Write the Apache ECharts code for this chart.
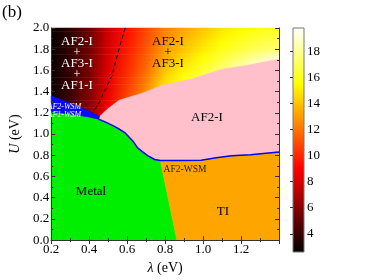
<!DOCTYPE html>
<html><head><meta charset="utf-8">
<script src="https://cdn.jsdelivr.net/npm/echarts@6/dist/echarts.min.js"></script>
<style>html,body{margin:0;padding:0;background:#fff}#c{width:374px;height:280px}</style>
</head><body><div id="c"></div>
<script>
// ---- heat map (gap) values ----
const lambdaGrid = [0.2,0.3,0.4,0.5,0.6,0.7,0.8,0.9,1.0,1.1,1.2,1.3,1.4];
const uGrid = [2.0,1.9,1.8,1.7,1.6,1.5,1.4,1.3,1.2,1.1];
const gapU20 = [2.8,3.8,5.3,7.8,9.4,10.8,12.3,13.2,14.0,14.8,15.3,15.7,16.0];
const gapU19 = [2.8,3.8,5.3,7.9,9.5,11.0,12.6,13.6,14.5,15.3,15.9,16.4,16.7];
const gapU18 = [2.8,3.9,5.4,8.0,9.7,11.2,13.0,14.0,15.0,15.8,16.5,17.0,17.4];
const gapU17 = [2.8,3.9,5.5,8.1,9.9,11.5,13.4,14.6,15.6,16.6,17.6,18.5,19.3];
const gapU16 = [2.9,4.0,5.6,8.2,10.1,11.8,14.0,15.2,16.3,17.5,18.6,19.4,19.8];
const gapU15 = [2.9,4.0,5.7,8.4,10.4,12.2,14.6,15.8,17.0,18.2,19.2,19.7,19.8];
const gapU14 = [2.9,4.1,5.8,8.5,10.6,12.6,15.0,16.4,17.6,18.8,19.6,19.8,19.8];
const gapU13 = [3.0,4.2,6.0,8.7,10.9,13.0,15.4,16.8,18.0,19.2,19.8,19.8,19.8];
const gapU12 = [3.0,4.3,6.2,8.9,11.2,13.4,15.8,17.2,18.4,19.5,19.8,19.8,19.8];
const gapU11 = [3.1,4.4,6.4,9.1,11.5,13.8,16.2,17.6,18.8,19.8,19.8,19.8,19.8];
const gapRows = [gapU20,gapU19,gapU18,gapU17,gapU16,gapU15,gapU14,gapU13,gapU12,gapU11];

// ---- phase boundaries (lambda, U) ----
const metalTop = [[0.2,1.21],[0.3,1.19],[0.4,1.16],[0.45,1.14],[0.49,1.11],[0.53,1.075],[0.56,1.045],[0.59,1.01],[0.63,0.935],[0.655,0.87],[0.68,0.835],[0.71,0.795],[0.745,0.76],[0.775,0.75]];
const tiTop = [[0.775,0.75],[0.89,0.75],[0.99,0.752],[1.07,0.776],[1.15,0.795],[1.25,0.805],[1.40,0.83]];
const wsmTop = [[0.2,1.36],[0.3,1.29],[0.4,1.215],[0.455,1.165]];
const pinkTop = [[0.455,1.165],[0.50,1.24],[0.56,1.32],[0.68,1.385],[0.78,1.457],[0.94,1.52],[1.10,1.61],[1.25,1.654],[1.40,1.707]];
const metalTiEdge = [[0.775,0.75],[0.862,0]];
const dashedLine = [[0.59,2.0],[0.57,1.88],[0.545,1.72],[0.52,1.55],[0.48,1.40],[0.445,1.27],[0.415,1.2]];

// ---- colour bar ----
const cbMin = 2.6, cbMax = 19.8;
const cbTicks = [4,6,8,10,12,14,16,18];
const xTicksMin = 0.2, xTicksMax = 1.4;

const hotStops = ['#000000','#550000','#aa0000','#ff0000','#ff5500','#ffaa00','#ffff00','#ffff80','#ffffff'];
function cmap(v){
  let t = (v-cbMin)/(cbMax-cbMin); t = Math.max(0,Math.min(1,t));
  return echarts.color.lerp(t, hotStops);
}

const metalPoly = [[0.2,0]].concat(metalTop).concat([metalTiEdge[1]]);
const tiPoly = [metalTiEdge[1]].concat(tiTop).concat([[1.4,0]]);
const pinkPoly = pinkTop.concat(tiTop.slice().reverse()).concat(metalTop.filter(p=>p[0]>=0.45).reverse());
const wsmPoly = wsmTop.concat(metalTop.filter(p=>p[0]<=0.45).reverse());
const blueLine = metalTop.filter(p=>p[0]>=0.45).concat(tiTop.slice(1));

function polySeries(points, color, z){
  return {type:'custom', coordinateSystem:'cartesian2d', xAxisIndex:0, yAxisIndex:0, silent:true, z:z,
    data:[points[0]],
    renderItem:(p,api)=>({type:'polygon', shape:{points: points.map(q=>api.coord(q))},
      style:{fill:color, stroke:color, lineWidth:0.6}})};
}

const SUB = 6;
const heatSeries = {
  type:'custom', coordinateSystem:'cartesian2d', xAxisIndex:0, yAxisIndex:0, silent:true, z:1,
  data: uGrid.slice(0,-1).map(u=>[0.2,u]),
  renderItem:(params, api)=>{
    const j = params.dataIndex;
    const u0 = uGrid[j], u1 = uGrid[j+1];
    const children = [];
    const xl = api.coord([lambdaGrid[0], u0])[0];
    const xr = api.coord([lambdaGrid[lambdaGrid.length-1], u0])[0];
    for (let k=0;k<SUB;k++){
      const f = (k+0.5)/SUB;
      const ya = api.coord([0.2, u0 + (u1-u0)*k/SUB])[1];
      const yb = api.coord([0.2, u0 + (u1-u0)*(k+1)/SUB])[1];
      const stops = lambdaGrid.map((l,i)=>({offset:(l-lambdaGrid[0])/(lambdaGrid[lambdaGrid.length-1]-lambdaGrid[0]),
        color: cmap(gapRows[j][i]*(1-f) + gapRows[j+1][i]*f)}));
      children.push({type:'rect', shape:{x:xl, y:ya-0.3, width:xr-xl, height:(yb-ya)+0.6},
        style:{fill:new echarts.graphic.LinearGradient(0,0,1,0,stops)}});
    }
    return {type:'group', children};
  }
};

const cbSeries = {
  type:'custom', coordinateSystem:'cartesian2d', xAxisIndex:2, yAxisIndex:2, silent:true, z:2,
  data:[[0,cbMin]],
  renderItem:(params, api)=>{
    const a = api.coord([0,cbMax]), b = api.coord([1,cbMin]);
    const stops = hotStops.map((c,i)=>({offset:1-i/(hotStops.length-1), color:c}));
    return {type:'rect', shape:{x:a[0], y:a[1], width:b[0]-a[0], height:b[1]-a[1]},
      style:{fill:new echarts.graphic.LinearGradient(0,0,0,1,stops), stroke:'#777', lineWidth:1}};
  }
};

const serif = '"Liberation Serif", "DejaVu Serif", serif';
const axisCol = '#333';
function fmt(v){ return (Math.round(v*10)/10).toFixed(1); }

const chart = echarts.init(document.getElementById('c'), null, {renderer:'canvas'});
chart.setOption({
  animation:false,
  backgroundColor:'#fff',
  grid:[
    {left:47, top:28, width:232, height:224},
    {left:293, top:28, width:11, height:224}
  ],
  xAxis:[
    {type:'value', gridIndex:0, min:xTicksMin, max:xTicksMax, interval:0.2, position:'bottom', z:5,
     axisLine:{show:true, lineStyle:{color:axisCol, width:1}},
     axisTick:{show:true, inside:true, length:4, lineStyle:{color:axisCol}},
     minorTick:{show:true, splitNumber:2, length:2, lineStyle:{color:axisCol}},
     splitLine:{show:false},
     axisLabel:{formatter:fmt, showMaxLabel:false, margin:3, fontFamily:serif, fontSize:13, color:'#000'},
     name:'{i|λ} (eV)', nameLocation:'middle', nameGap:16,
     nameTextStyle:{fontFamily:serif, fontSize:14, color:'#000', rich:{i:{fontStyle:'italic', fontFamily:serif, fontSize:14, color:'#000'}}}},
    {type:'value', gridIndex:0, min:xTicksMin, max:xTicksMax, interval:0.2, position:'top', z:5,
     axisLine:{show:true, lineStyle:{color:axisCol, width:1}},
     axisTick:{show:true, inside:true, length:4, lineStyle:{color:axisCol}},
     minorTick:{show:true, splitNumber:2, length:2, lineStyle:{color:axisCol}},
     splitLine:{show:false}, axisLabel:{show:false}},
    {type:'value', gridIndex:1, min:0, max:1, show:false}
  ],
  yAxis:[
    {type:'value', gridIndex:0, min:0, max:2, interval:0.2, position:'left', z:5,
     axisLine:{show:true, lineStyle:{color:axisCol, width:1}},
     axisTick:{show:true, inside:true, length:4, lineStyle:{color:axisCol}},
     minorTick:{show:true, splitNumber:2, length:2, lineStyle:{color:axisCol}},
     splitLine:{show:false},
     axisLabel:{formatter:fmt, margin:2, fontFamily:serif, fontSize:13, color:'#000'},
     name:'{i|U} (eV)', nameLocation:'middle', nameGap:26,
     nameTextStyle:{fontFamily:serif, fontSize:14, color:'#000', rich:{i:{fontStyle:'italic', fontFamily:serif, fontSize:14, color:'#000'}}}},
    {type:'value', gridIndex:0, min:0, max:2, interval:0.2, position:'right', z:5,
     axisLine:{show:true, lineStyle:{color:axisCol, width:1}},
     axisTick:{show:true, inside:true, length:4, lineStyle:{color:axisCol}},
     minorTick:{show:true, splitNumber:2, length:2, lineStyle:{color:axisCol}},
     splitLine:{show:false}, axisLabel:{show:false}},
    {type:'value', gridIndex:1, min:cbMin, max:cbMax, position:'right', z:5,
     axisLine:{show:false},
     axisTick:{show:true, inside:true, length:3, customValues:cbTicks, lineStyle:{color:axisCol}},
     splitLine:{show:false},
     axisLabel:{customValues:cbTicks, margin:3, fontFamily:serif, fontSize:13, color:'#000'}}
  ],
  series:[
    heatSeries,
    polySeries(pinkPoly, '#ffc0cb', 2),
    polySeries(metalPoly, '#00ee00', 2),
    polySeries(tiPoly, '#ffa500', 2),
    polySeries(wsmPoly, '#0a0aff', 2),
    {type:'line', xAxisIndex:0, yAxisIndex:0, data:blueLine, showSymbol:false, symbol:'none', silent:true, z:3,
     lineStyle:{color:'#0000ff', width:1.5}},
    {type:'line', xAxisIndex:0, yAxisIndex:0, data:dashedLine, showSymbol:false, symbol:'none', silent:true, z:3,
     lineStyle:{color:'#000', width:1, type:[4,3]}},
    cbSeries
  ],
  graphic:[
    {type:'text', x:77, y:63.5, z:10, silent:true, style:{text:'AF2-I\n+\nAF3-I\n+\nAF1-I', fill:'#fff', font:'13px '+serif, textAlign:'center', textVerticalAlign:'middle', lineHeight:10.8}},
    {type:'text', x:168, y:52.5, z:10, silent:true, style:{text:'AF2-I\n+\nAF3-I', fill:'#000', font:'13px '+serif, textAlign:'center', textVerticalAlign:'middle', lineHeight:10.8}},
    {type:'text', x:207, y:118, z:10, silent:true, style:{text:'AF2-I', fill:'#000', font:'13px '+serif, textAlign:'center', textVerticalAlign:'middle'}},
    {type:'text', x:91, y:192, z:10, silent:true, style:{text:'Metal', fill:'#000', font:'13px '+serif, textAlign:'center', textVerticalAlign:'middle'}},
    {type:'text', x:223, y:212, z:10, silent:true, style:{text:'TI', fill:'#000', font:'13px '+serif, textAlign:'center', textVerticalAlign:'middle'}},
    {type:'text', x:185, y:169, z:10, silent:true, style:{text:'AF2-WSM', fill:'#222', font:'9.5px '+serif, textAlign:'center', textVerticalAlign:'middle'}},
    {type:'text', x:47.5, y:107, z:10, silent:true, style:{text:'AF2-WSM', fill:'#fff', font:'italic 8px '+serif, textAlign:'left', textVerticalAlign:'middle'}},
    {type:'text', x:47.5, y:114.5, z:10, silent:true, style:{text:'AF1-WSM', fill:'#fff', font:'italic 8px '+serif, textAlign:'left', textVerticalAlign:'middle'}},
    {type:'text', x:2, y:13, z:10, silent:true, style:{text:'(b)', fill:'#000', font:'17px '+serif, textAlign:'left', textVerticalAlign:'middle'}}
  ]
});
</script>
</body></html>
